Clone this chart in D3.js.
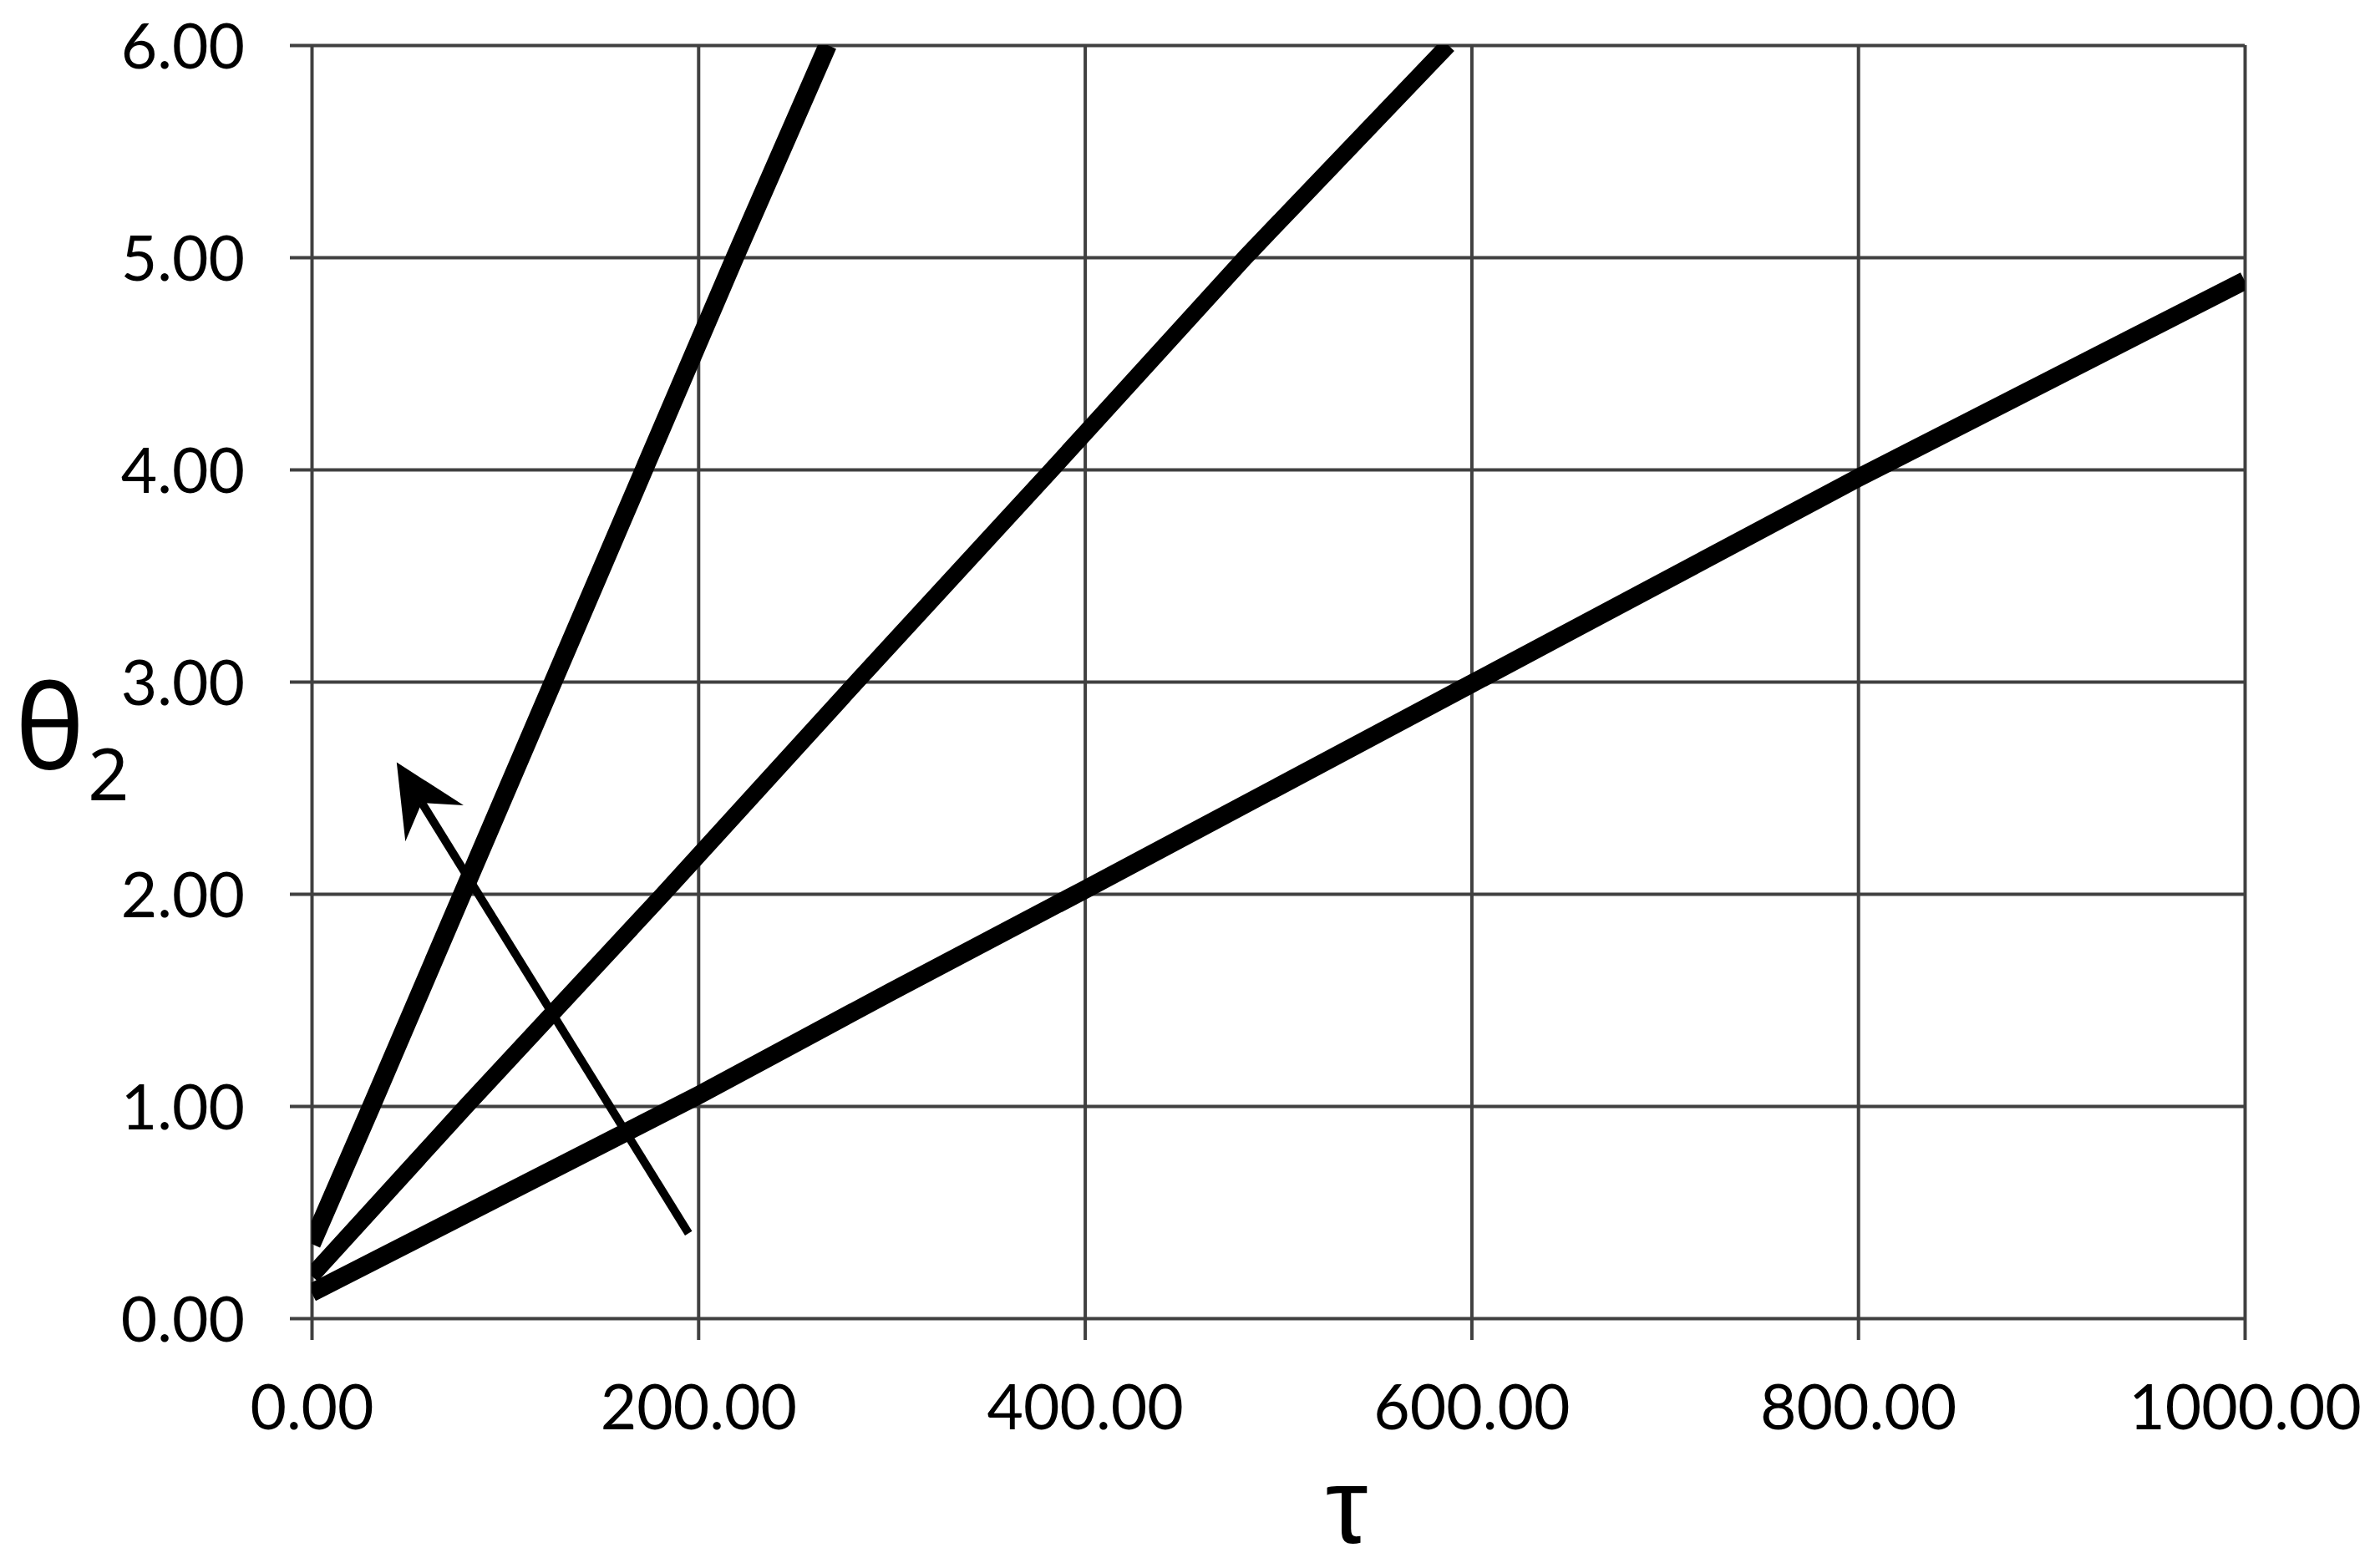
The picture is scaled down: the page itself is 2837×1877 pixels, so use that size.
<!DOCTYPE html>
<html>
<head>
<meta charset="utf-8">
<script src="https://cdn.jsdelivr.net/npm/d3@7"></script>
<style>
  body{margin:0;background:#fff;}
  svg{display:block;}
</style>
</head>
<body>
<svg id="chart" width="2837" height="1877"></svg>
<script>
// values
const xTicks = [0, 200, 400, 600, 800, 1000];
const yTicks = [0, 1, 2, 3, 4, 5, 6];

const steepTau   = [0, 31, 78, 125, 172, 219, 267];
const steepTheta = [0.35, 1.0, 2.0, 3.0, 4.0, 5.0, 6.0];

const midTau   = [0, 80, 182, 282, 383, 483, 588];
const midTheta = [0.20, 1.0, 2.0, 3.0, 4.0, 5.0, 6.0];

const flatTau   = [0, 200, 300, 400, 600, 800, 1000];
const flatTheta = [0.12, 1.05, 1.54, 2.02, 2.99, 3.96, 4.89];

// arrow drawn across the curves: tail -> head, in data units
const arrowTail = [195, 0.40];
const arrowHead = [44, 2.62];

const W = 2837, H = 1877;
const m = {left:373, right:150, top:54, bottom:299};
const tick = 26;
const gridColor = '#404040';

const svg = d3.select('#chart');
svg.append('rect').attr('width',W).attr('height',H).attr('fill','#fff');

const x = d3.scaleLinear().domain([0,1000]).range([m.left, W-m.right]);
const y = d3.scaleLinear().domain([0,6]).range([H-m.bottom, m.top]);
const fmt = d3.format('.2f');

// grid + ticks (gridlines run on past the axis to form the tick marks)
const gx = svg.append('g')
  .attr('transform',`translate(0,${y(0)+tick})`)
  .call(d3.axisBottom(x).tickValues(xTicks).tickFormat(fmt)
        .tickSizeInner(-(y(0)-y(6)+tick)).tickSizeOuter(0).tickPadding(54));
const gy = svg.append('g')
  .attr('transform',`translate(${x(0)-tick},0)`)
  .call(d3.axisLeft(y).tickValues(yTicks).tickFormat(fmt)
        .tickSizeInner(-(x(1000)-x(0)+tick)).tickSizeOuter(0).tickPadding(54));

[gx,gy].forEach(g=>{
  g.select('.domain').remove();
  g.selectAll('.tick line').attr('stroke',gridColor).attr('stroke-width',4);
  g.selectAll('.tick text').attr('fill','#000')
    .style('font-family','Lato, "Open Sans", sans-serif').style('font-size','75px');
});
gy.selectAll('.tick text').attr('dy','0.36em');

// data lines
svg.append('clipPath').attr('id','plot').append('rect')
  .attr('x',x(0)).attr('y',y(6)).attr('width',x(1000)-x(0)).attr('height',y(0)-y(6));

const line = d3.line().x(d=>x(d[0])).y(d=>y(d[1]));
const series = [
  {tau:steepTau, theta:steepTheta, w:22},
  {tau:midTau,   theta:midTheta,   w:20},
  {tau:flatTau,  theta:flatTheta,  w:22}
];
const lines = svg.append('g').attr('clip-path','url(#plot)');
series.forEach(s=>{
  lines.append('path')
    .datum(s.tau.map((t,i)=>[t,s.theta[i]]))
    .attr('d',line)
    .attr('fill','none').attr('stroke','#000')
    .attr('stroke-width',s.w).attr('stroke-linejoin','round');
});

// arrow
const x0=x(arrowTail[0]), y0=y(arrowTail[1]), x1=x(arrowHead[0]), y1=y(arrowHead[1]);
const len=Math.hypot(x1-x0,y1-y0), ux=(x1-x0)/len, uy=(y1-y0)/len;
const notch=57;
const ang=Math.atan2(uy,ux)*180/Math.PI;
svg.append('line')
  .attr('x1',x0).attr('y1',y0).attr('x2',x1-ux*notch).attr('y2',y1-uy*notch)
  .attr('stroke','#000').attr('stroke-width',10);
svg.append('path')
  .attr('d','M0,0 L-86,-41 L-57,0 L-86,41 Z')
  .attr('transform',`translate(${x1},${y1}) rotate(${ang})`)
  .attr('fill','#000');

// axis titles
const yt = svg.append('text').attr('x',18).attr('y',921)
  .style('font-family','"Noto Sans", "Open Sans", sans-serif').attr('fill','#000');
yt.append('tspan').style('font-size','140px').text('θ');
yt.append('tspan').style('font-size','86px').attr('dx',4).attr('dy',37).text('2');

svg.append('text').attr('x',1612).attr('y',1847).attr('text-anchor','middle')
  .style('font-family','"Liberation Sans", sans-serif').style('font-size','128px')
  .attr('fill','#000').text('τ');
</script>
</body>
</html>
